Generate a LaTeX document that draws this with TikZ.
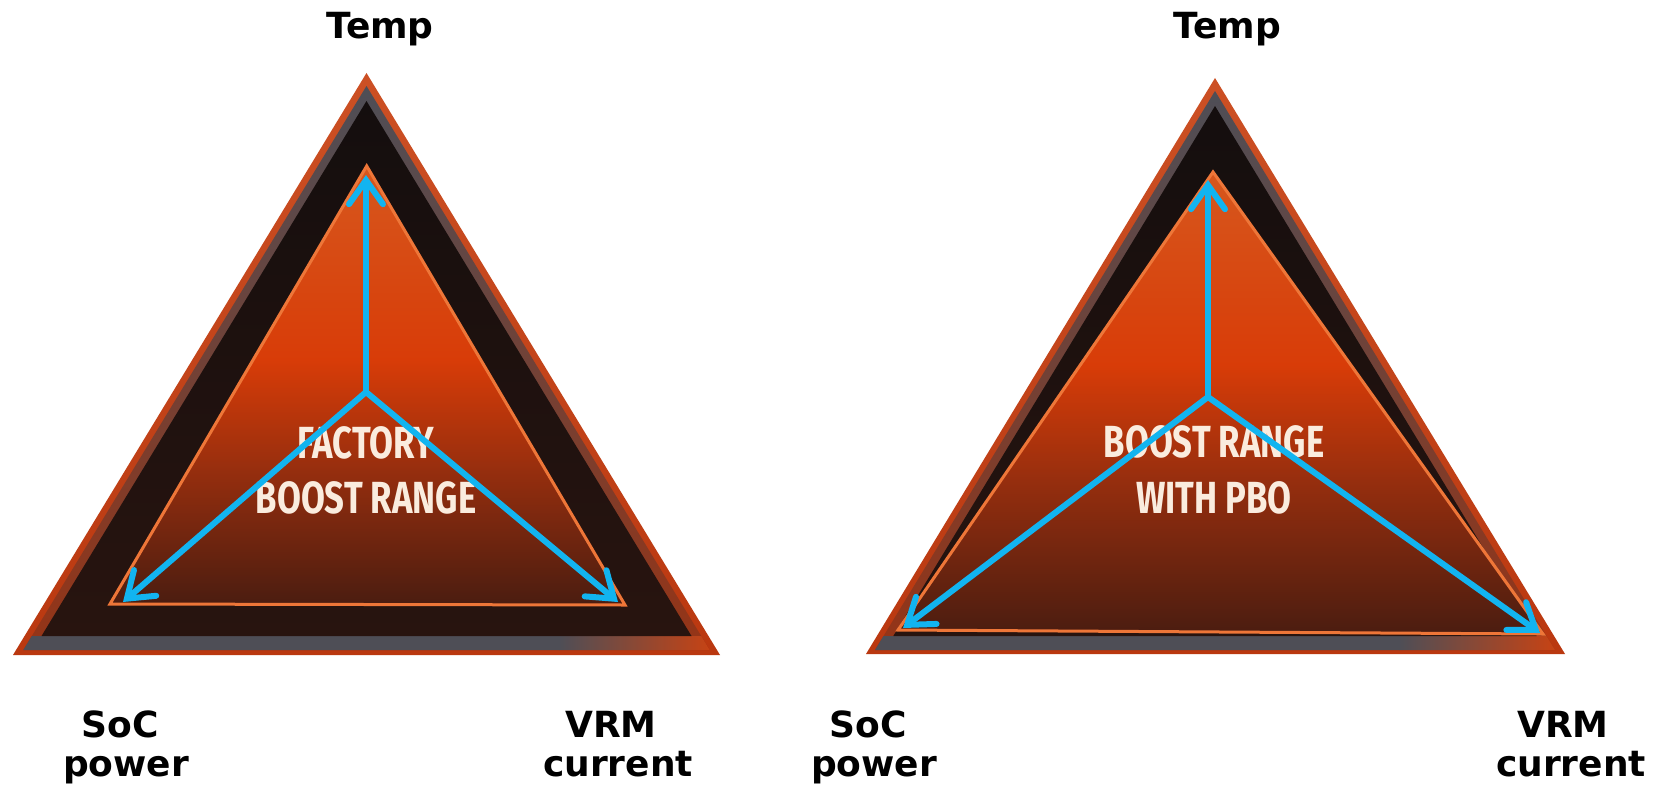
\documentclass[tikz,border=0pt]{standalone}
\usepackage{fontspec}
\usetikzlibrary{arrows.meta}
\newfontfamily\labelfont{DejaVu Sans}
\newfontfamily\panelfont{Fira Sans}[FakeStretch=0.77]

\definecolor{arrowblue}{RGB}{18,180,240}
\definecolor{rimtop}{RGB}{204,80,36}
\definecolor{rimbottom}{RGB}{186,56,16}
\definecolor{rimgray}{RGB}{78,78,86}
\definecolor{rimbrown}{RGB}{150,52,22}
\definecolor{coretop}{RGB}{20,14,14}
\definecolor{corebottom}{RGB}{40,20,15}
\definecolor{fillA}{RGB}{214,88,30}
\definecolor{fillB}{RGB}{216,60,8}
\definecolor{fillC}{RGB}{150,46,14}
\definecolor{fillD}{RGB}{72,28,16}
\definecolor{innerline}{RGB}{238,118,56}
\definecolor{captext}{RGB}{250,236,222}
\definecolor{hotorange}{RGB}{210,66,14}

\tikzset{
  flow/.style={draw=arrowblue, line width=6pt, line cap=round,
    -{Straight Barb[length=24pt,width=34pt,line cap=round]}},
  axislabel/.style={font=\labelfont\bfseries\fontsize{36}{40}\selectfont,
    anchor=base, inner sep=0pt},
  rangetext/.style={font=\panelfont\bfseries\fontsize{45}{50}\selectfont,
    text=captext, anchor=base, inner sep=0pt},
  innerrim/.style={draw=innerline, line width=3pt, line join=miter},
}

\begin{document}
\begin{tikzpicture}[x=1pt,y=-1pt]
\useasboundingbox[fill=white] (0,0) rectangle (1661,789);

% ---------- left badge: factory boost range ----------
\shade[top color=rimtop, bottom color=rimbottom]
  (366.5,73) -- (720,655) -- (13,655) -- cycle;
\shade[top color=rimgray, bottom color=rimbrown]
  (366.5,86) -- (709.7,650) -- (23.3,650) -- cycle;
\begin{scope}
  \clip (31.8,636) -- (701.2,636) -- (709.7,650) -- (23.3,650) -- cycle;
  \fill[rimgray] (0,630) rectangle (560,660);
  \shade[left color=rimgray, right color=hotorange] (559,630) rectangle (725,660);
\end{scope}
\shade[top color=coretop, bottom color=corebottom]
  (366.5,101) -- (691.5,636) -- (41.5,636) -- cycle;
\begin{scope}
  \clip (366.7,166) -- (625,605) -- (110,604) -- cycle;
  \shade[top color=fillA, bottom color=fillB] (100,160) rectangle (640,361);
  \shade[top color=fillB, bottom color=fillC] (100,360) rectangle (640,471);
  \shade[top color=fillC, bottom color=fillD] (100,470) rectangle (640,610);
\end{scope}
\draw[innerrim] (366.7,166) -- (625,605) -- (110,604) -- cycle;

\node[rangetext] (lfac) at (366,458) {FACTORY};
\node[rangetext] (lrng) at (366,513) {BOOST RANGE};

\coordinate (lc) at (366,392);
\coordinate (lup) at (366,175);
\coordinate (lsoc) at (123,602);
\coordinate (lvrm) at (618,602);
\draw[flow] (lc) -- (lup);
\draw[flow] (lc) -- (lsoc);
\draw[flow] (lc) -- (lvrm);

\node[axislabel] (ltemp) at (380,39) {Temp};
\node[axislabel] (lsoc1) at (120,737) {SoC};
\node[axislabel] (lsoc2) at (126,776) {power};
\node[axislabel] (lvrm1) at (611,737) {VRM};
\node[axislabel] (lvrm2) at (618,776) {current};

% ---------- right badge: boost range with PBO ----------
\shade[top color=rimtop, bottom color=rimbottom]
  (1215,78) -- (1565,654) -- (866,654) -- cycle;
\shade[top color=rimgray, bottom color=rimbrown]
  (1215,91) -- (1555,650) -- (875,650) -- cycle;
\begin{scope}
  \clip (883.5,636) -- (1546.5,636) -- (1555,650) -- (875,650) -- cycle;
  \fill[rimgray] (860,630) rectangle (1400,660);
  \shade[left color=rimgray, right color=hotorange] (1399,630) rectangle (1570,660);
\end{scope}
\shade[top color=coretop, bottom color=corebottom]
  (1215,106) -- (1536.7,636) -- (893.3,636) -- cycle;
\begin{scope}
  \clip (1213,172) -- (1543,634) -- (898,630) -- cycle;
  \shade[top color=fillA, bottom color=fillB] (880,165) rectangle (1560,366);
  \shade[top color=fillB, bottom color=fillC] (880,365) rectangle (1560,481);
  \shade[top color=fillC, bottom color=fillD] (880,480) rectangle (1560,640);
\end{scope}
\draw[innerrim] (1213,172) -- (1543,634) -- (898,630) -- cycle;

\node[rangetext] (rrng) at (1214,457) {BOOST RANGE};
\node[rangetext] (rpbo) at (1214,513) {WITH PBO};

\coordinate (rc) at (1208,397);
\coordinate (rup) at (1208,180);
\coordinate (rsoc) at (903,628);
\coordinate (rvrm) at (1540,633);
\draw[flow] (rc) -- (rup);
\draw[flow] (rc) -- (rsoc);
\draw[flow] (rc) -- (rvrm);

\node[axislabel] (rtemp) at (1227,39) {Temp};
\node[axislabel] (rsoc1) at (868,737) {SoC};
\node[axislabel] (rsoc2) at (874,776) {power};
\node[axislabel] (rvrm1) at (1563,737) {VRM};
\node[axislabel] (rvrm2) at (1571,776) {current};
\end{tikzpicture}
\end{document}
